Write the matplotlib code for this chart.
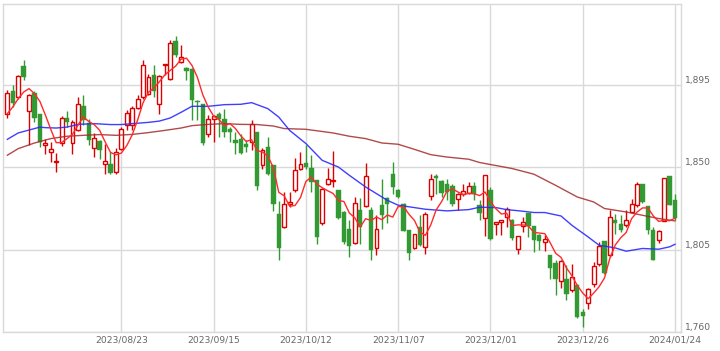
import matplotlib.pyplot as plt
import numpy as np
import pandas as pd

# daily candles, index 0 = 2023/07/24 ... 123 = 2024/01/24
opens = [1879.1, 1891.7, 1888.6, 1905.4, 1881.1, 1890.6, 1879.1, 1862.5, 1858.5, 1853.0,
         1863.4, 1876.9, 1863.6, 1870.3, 1883.9, 1874.5, 1860.7, 1864.3, 1852.1, 1852.1,
         1847.5, 1860.3, 1873.1, 1873.5, 1882.8, 1888.6, 1890.4, 1900.8, 1884.9, 1906.0,
         1898.3, 1919.1, 1907.8, 1904.7, 1904.1, 1886.5, 1884.6, 1868.5, 1876.7, 1879.5,
         1876.7, 1871.3, 1864.8, 1865.7, 1862.6, 1863.9, 1869.4, 1851.1, 1861.2, 1851.1,
         1824.7, 1817.4, 1830.1, 1837.4, 1849.3, 1852.4, 1849.9, 1842.9, 1819.6, 1841.1,
         1842.4, 1837.4, 1825.6, 1816.1, 1808.8, 1826.9, 1828.9, 1826.5, 1805.6, 1829.3,
         1833.5, 1846.3, 1837.5, 1829.8, 1815.6, 1805.9, 1817.4, 1806.5, 1834.2, 1845.4,
         1842.6, 1841.2, 1840.0, 1832.9, 1835.3, 1836.2, 1839.7, 1829.3, 1822.5, 1837.5,
         1819.2, 1820.1, 1822.9, 1821.4, 1805.5, 1817.8, 1825.1, 1817.8, 1812.8, 1809.4,
         1801.9, 1797.9, 1787.8, 1789.1, 1783.1, 1785.8, 1771.0, 1775.9, 1785.9, 1797.3,
         1809.6, 1801.9, 1821.1, 1819.2, 1818.3, 1825.6, 1829.3, 1840.8, 1828.7, 1815.9,
         1810.5, 1820.7, 1845.1, 1832.0]
highs = [1892.3, 1895.0, 1900.5, 1908.7, 1890.0, 1892.0, 1879.5, 1865.8, 1864.0, 1857.9,
         1878.0, 1880.8, 1875.8, 1888.6, 1889.9, 1876.7, 1868.9, 1864.9, 1863.0, 1858.5,
         1860.9, 1872.2, 1881.3, 1883.5, 1889.5, 1908.7, 1901.4, 1906.3, 1900.5, 1906.5,
         1919.6, 1921.8, 1916.9, 1905.0, 1904.6, 1887.1, 1884.6, 1878.6, 1878.6, 1880.4,
         1882.2, 1872.0, 1869.3, 1868.5, 1864.8, 1875.8, 1869.4, 1860.8, 1866.6, 1851.1,
         1831.6, 1836.5, 1836.5, 1855.3, 1858.4, 1862.1, 1856.6, 1843.0, 1838.9, 1849.9,
         1859.0, 1837.4, 1826.0, 1821.1, 1833.8, 1833.5, 1852.6, 1828.4, 1823.8, 1843.9,
         1833.9, 1853.0, 1838.0, 1830.3, 1815.6, 1813.8, 1823.8, 1825.6, 1846.6, 1846.3,
         1843.3, 1843.9, 1841.0, 1836.0, 1841.1, 1842.0, 1842.0, 1832.0, 1845.7, 1839.3,
         1820.3, 1821.4, 1828.3, 1821.5, 1812.5, 1822.9, 1825.1, 1818.0, 1813.7, 1812.8,
         1802.0, 1799.1, 1799.1, 1796.4, 1797.0, 1786.0, 1772.7, 1784.0, 1798.4, 1809.2,
         1809.8, 1826.5, 1824.7, 1823.8, 1826.9, 1832.9, 1842.0, 1841.1, 1828.7, 1817.4,
         1815.9, 1844.4, 1845.1, 1835.6]
lows = [1877.3, 1883.1, 1887.7, 1897.7, 1862.1, 1874.9, 1861.2, 1857.6, 1853.0, 1847.5,
        1862.0, 1872.2, 1857.6, 1869.9, 1873.1, 1862.1, 1855.7, 1854.8, 1846.6, 1846.5,
        1846.6, 1859.4, 1870.3, 1870.3, 1882.2, 1887.7, 1889.5, 1888.6, 1879.5, 1900.5,
        1897.7, 1910.5, 1907.5, 1897.7, 1875.8, 1875.8, 1862.1, 1866.7, 1864.0, 1866.7,
        1866.7, 1864.0, 1857.2, 1857.5, 1858.4, 1859.8, 1837.4, 1849.3, 1845.7, 1826.1,
        1799.1, 1817.0, 1828.3, 1836.5, 1848.4, 1849.3, 1836.5, 1808.3, 1818.3, 1840.2,
        1839.3, 1822.0, 1808.3, 1801.0, 1808.3, 1807.9, 1828.4, 1799.5, 1801.9, 1816.5,
        1819.4, 1835.7, 1833.0, 1815.0, 1799.2, 1805.4, 1807.0, 1802.8, 1832.4, 1835.7,
        1833.9, 1832.0, 1829.0, 1826.5, 1834.2, 1835.3, 1832.4, 1821.4, 1812.3, 1810.4,
        1812.8, 1812.8, 1817.4, 1810.1, 1802.8, 1814.7, 1811.9, 1803.7, 1804.6, 1804.3,
        1789.1, 1780.0, 1784.2, 1777.2, 1781.8, 1767.6, 1762.7, 1772.7, 1784.3, 1796.1,
        1791.8, 1801.0, 1813.7, 1814.7, 1817.4, 1825.0, 1828.4, 1830.5, 1813.7, 1799.1,
        1808.6, 1820.7, 1829.5, 1821.4]
closes = [1891.0, 1885.3, 1900.3, 1899.5, 1889.9, 1877.1, 1864.0, 1863.4, 1859.9, 1853.5,
          1877.3, 1874.9, 1874.9, 1884.9, 1876.2, 1865.1, 1866.2, 1859.4, 1853.7, 1846.8,
          1858.5, 1870.9, 1880.0, 1882.8, 1887.7, 1905.9, 1899.5, 1891.7, 1899.9, 1906.4,
          1918.3, 1911.4, 1910.5, 1902.8, 1886.8, 1885.8, 1863.4, 1876.7, 1878.0, 1876.7,
          1869.4, 1869.4, 1863.4, 1857.9, 1861.2, 1874.0, 1839.8, 1859.3, 1846.6, 1830.1,
          1806.1, 1830.1, 1831.0, 1848.4, 1852.0, 1850.2, 1842.0, 1811.9, 1838.4, 1843.8,
          1842.8, 1822.5, 1809.2, 1807.0, 1830.7, 1817.4, 1845.2, 1804.6, 1816.0, 1823.8,
          1830.2, 1839.3, 1833.8, 1815.1, 1803.2, 1813.4, 1807.4, 1824.7, 1843.9, 1844.4,
          1836.0, 1836.6, 1830.2, 1835.6, 1837.1, 1839.7, 1835.3, 1825.1, 1845.7, 1810.6,
          1820.1, 1821.0, 1827.4, 1811.6, 1812.5, 1820.1, 1817.8, 1810.1, 1809.7, 1811.0,
          1795.1, 1789.1, 1798.6, 1780.9, 1789.7, 1768.1, 1768.6, 1783.2, 1796.0, 1807.1,
          1792.2, 1822.9, 1819.6, 1815.6, 1821.4, 1830.2, 1840.8, 1831.1, 1815.6, 1799.5,
          1815.0, 1844.4, 1829.6, 1822.5]

# first values of the 5-day average (earlier closes are off the chart)
ma5_head = [1879.5, 1883.1, 1887.7, 1891.3]

ma25_idx = [0, 2, 5, 6, 7, 9, 11, 13, 16, 19, 21, 23, 26, 28, 30, 32, 34, 37, 40, 43,
            45, 48, 50, 52, 55, 58, 61, 63, 66, 70, 72, 75, 77, 81, 85, 87, 90, 92, 95, 97,
            99, 102, 104, 107, 109, 112, 114, 117, 120, 122, 123]
ma25_val = [1865.4, 1868.9, 1871.3, 1872.1, 1871.8, 1871.6, 1872.1, 1873.6, 1874.0, 1873.5,
            1873.5, 1874.0, 1874.7, 1875.4, 1877.1, 1880.2, 1883.5, 1883.5, 1884.4, 1884.6,
            1885.5, 1882.2, 1877.6, 1870.3, 1863.1, 1853.9, 1850.2, 1845.7, 1839.3, 1832.0,
            1829.3, 1828.0, 1827.1, 1826.2, 1826.9, 1828.2, 1828.0, 1826.9, 1826.0, 1825.3,
            1825.3, 1823.4, 1818.3, 1811.9, 1807.4, 1805.9, 1804.1, 1805.6, 1805.2, 1806.5,
            1807.9]

ma75_idx = [0, 2, 5, 8, 11, 14, 17, 20, 23, 26, 29, 32, 34, 37, 40, 43, 46, 49, 51, 55,
            60, 63, 66, 69, 72, 75, 78, 81, 85, 87, 89, 93, 97, 101, 105, 108, 110, 114, 117,
            120, 123]
ma75_val = [1856.7, 1860.3, 1863.4, 1865.8, 1867.1, 1867.6, 1868.0, 1867.6, 1868.1, 1869.1,
            1870.3, 1871.6, 1872.9, 1873.6, 1874.0, 1873.6, 1873.5, 1872.7, 1871.3, 1870.9,
            1868.9, 1867.1, 1865.8, 1863.4, 1862.7, 1859.9, 1857.0, 1855.7, 1854.5, 1852.7,
            1851.6, 1849.4, 1846.3, 1840.2, 1833.8, 1831.1, 1827.5, 1825.6, 1823.8, 1822.0,
            1820.7]

tick_idx = [21, 38, 55, 72, 89, 106, 123]
tick_labels = ["2023/08/23", "2023/09/15", "2023/10/12", "2023/11/07",
               "2023/12/01", "2023/12/26", "2024/01/24"]
y_ticks = [1760, 1805, 1850, 1895]

RED = "#dd0000"
GREEN = "#339933"
GRID = "#d9d9d9"
LABEL = "#666666"

o = np.array(opens)
h = np.array(highs)
l = np.array(lows)
c = np.array(closes)
x = np.arange(len(c))
up = c >= o

ma5 = pd.Series(c).rolling(5).mean().to_numpy()
ma5[:4] = ma5_head

fig = plt.figure(figsize=(7.2, 3.51), dpi=100)
ax = fig.add_axes([3 / 720, 19.3 / 351, 678 / 720, 327.6 / 351])

# wicks
ax.vlines(x[up], l[up], h[up], color=RED, lw=1, zorder=2)
ax.vlines(x[~up], l[~up], h[~up], color=GREEN, lw=1, zorder=2)

# bodies
bottom = np.minimum(o, c)
height = np.maximum(np.abs(c - o), 0.6)
ax.bar(x[up], height[up], bottom=bottom[up], width=0.72, facecolor="white",
       edgecolor=RED, linewidth=1, zorder=3)
ax.bar(x[~up], height[~up], bottom=bottom[~up], width=0.8, facecolor=GREEN,
       edgecolor=GREEN, linewidth=0.3, zorder=3)

# moving averages
ax.plot(ma75_idx, ma75_val, color="#a52a2a", lw=1, alpha=0.85, zorder=4)
ax.plot(ma25_idx, ma25_val, color="#2a2aff", lw=1, alpha=0.9, zorder=4)
ax.plot(x, ma5, color="#ff2a2a", lw=1, zorder=5)

ax.set_xlim(-0.8, 124.1)
ax.set_ylim(1760, 1939.5)

ax.set_xticks(tick_idx)
ax.set_xticklabels(tick_labels)
ax.set_yticks(y_ticks)
ax.tick_params(axis="y", labelleft=False, labelright=False, length=0)
ax.tick_params(axis="x", length=0, labelsize=6.6, colors=LABEL, pad=2.5)

# price labels sit just above their grid lines, right of the plot
for v in y_ticks:
    ax.text(1.006, v, f"{v:,}", transform=ax.get_yaxis_transform(),
            ha="left", va="bottom", fontsize=6.6, color=LABEL)

ax.grid(True, color=GRID, lw=1)
ax.set_axisbelow(True)
for s in ax.spines.values():
    s.set_color(GRID)
    s.set_linewidth(1)

fig.savefig("out.png", dpi=100)
